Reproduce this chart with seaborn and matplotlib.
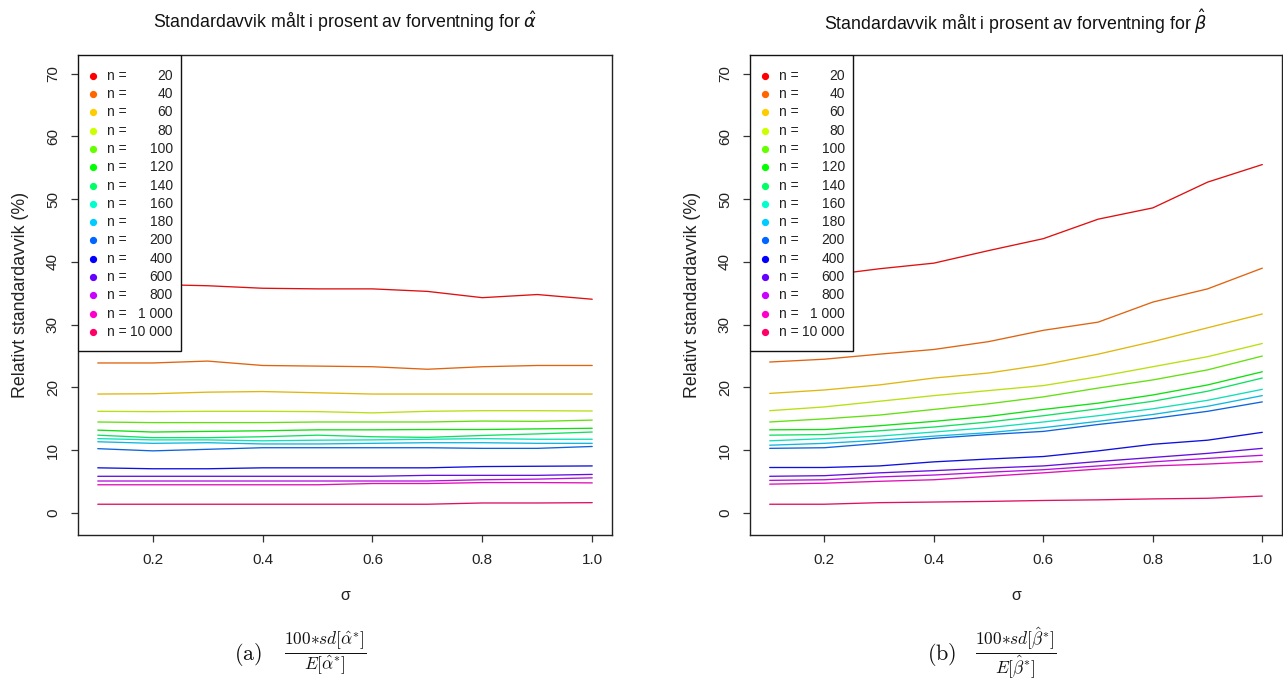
import numpy as np
import pandas as pd
import matplotlib
matplotlib.use("Agg")
import matplotlib.pyplot as plt
import matplotlib.colors as mcolors
from matplotlib.patches import Rectangle
import seaborn as sns

# sigma grid
sigma = [0.1, 0.2, 0.3, 0.4, 0.5, 0.6, 0.7, 0.8, 0.9, 1.0]

# sample sizes and their legend labels
n_values = [20, 40, 60, 80, 100, 120, 140, 160, 180, 200, 400, 600, 800, 1000, 10000]
n_labels = ["20", "40", "60", "80", "100", "120", "140", "160", "180", "200",
            "400", "600", "800", "1 000", "10 000"]

# relative standard deviation (%) of alpha-hat, one list per n
alpha_20 = [36.4, 36.4, 36.2, 35.8, 35.7, 35.7, 35.3, 34.3, 34.8, 34.05]
alpha_40 = [23.9, 23.9, 24.2, 23.5, 23.4, 23.3, 22.9, 23.3, 23.5, 23.5]
alpha_60 = [18.95, 19.0, 19.25, 19.35, 19.15, 18.95, 18.95, 18.95, 18.95, 18.95]
alpha_80 = [16.2, 16.15, 16.2, 16.2, 16.15, 15.95, 16.2, 16.3, 16.3, 16.25]
alpha_100 = [14.5, 14.4, 14.4, 14.4, 14.5, 14.5, 14.5, 14.65, 14.6, 14.8]
alpha_120 = [13.2, 12.9, 13.0, 13.1, 13.25, 13.25, 13.3, 13.3, 13.4, 13.5]
alpha_140 = [12.4, 12.0, 12.0, 12.15, 12.4, 12.15, 12.05, 12.35, 12.6, 12.9]
alpha_160 = [11.85, 11.65, 11.65, 11.5, 11.6, 11.65, 11.75, 11.85, 11.75, 11.75]
alpha_180 = [11.35, 11.1, 11.2, 11.0, 11.0, 11.1, 11.2, 11.2, 11.1, 11.1]
alpha_200 = [10.25, 9.9, 10.15, 10.4, 10.4, 10.4, 10.4, 10.3, 10.3, 10.6]
alpha_400 = [7.2, 7.05, 7.05, 7.2, 7.2, 7.2, 7.2, 7.4, 7.45, 7.5]
alpha_600 = [5.85, 5.85, 5.85, 5.85, 5.85, 5.85, 6.0, 6.0, 6.0, 6.15]
alpha_800 = [5.1, 5.1, 5.1, 5.1, 5.1, 5.1, 5.1, 5.3, 5.4, 5.6]
alpha_1000 = [4.5, 4.5, 4.5, 4.5, 4.5, 4.7, 4.7, 4.85, 4.85, 4.8]
alpha_10000 = [1.4, 1.4, 1.4, 1.4, 1.4, 1.4, 1.4, 1.6, 1.6, 1.65]

# relative standard deviation (%) of beta-hat, one list per n
beta_20 = [36.8, 37.8, 38.9, 39.8, 41.8, 43.7, 46.8, 48.6, 52.7, 55.5]
beta_40 = [24.05, 24.5, 25.3, 26.05, 27.3, 29.1, 30.4, 33.6, 35.7, 39.0]
beta_60 = [19.05, 19.6, 20.4, 21.5, 22.3, 23.6, 25.3, 27.3, 29.5, 31.7]
beta_80 = [16.3, 16.9, 17.8, 18.7, 19.5, 20.3, 21.7, 23.3, 24.9, 27.0]
beta_100 = [14.5, 15.0, 15.6, 16.5, 17.4, 18.5, 19.9, 21.2, 22.8, 25.0]
beta_120 = [13.25, 13.3, 13.9, 14.6, 15.4, 16.5, 17.5, 18.8, 20.4, 22.5]
beta_140 = [12.4, 12.5, 13.1, 13.7, 14.5, 15.5, 16.6, 17.8, 19.4, 21.5]
beta_160 = [11.5, 11.85, 12.25, 12.9, 13.6, 14.5, 15.5, 16.6, 17.95, 19.7]
beta_180 = [10.8, 11.1, 11.6, 12.25, 12.8, 13.6, 14.6, 15.7, 17.0, 18.7]
beta_200 = [10.3, 10.4, 11.1, 11.9, 12.5, 13.0, 14.1, 15.05, 16.2, 17.7]
beta_400 = [7.25, 7.25, 7.5, 8.15, 8.6, 9.0, 9.9, 10.95, 11.6, 12.85]
beta_600 = [5.85, 5.95, 6.4, 6.75, 7.15, 7.5, 8.2, 8.85, 9.5, 10.3]
beta_800 = [5.2, 5.3, 5.75, 6.05, 6.5, 6.9, 7.5, 8.15, 8.7, 9.2]
beta_1000 = [4.6, 4.75, 5.05, 5.3, 5.85, 6.4, 7.0, 7.5, 7.8, 8.2]
beta_10000 = [1.4, 1.4, 1.65, 1.75, 1.85, 2.0, 2.1, 2.25, 2.35, 2.7]

alpha_series = [alpha_20, alpha_40, alpha_60, alpha_80, alpha_100, alpha_120,
                alpha_140, alpha_160, alpha_180, alpha_200, alpha_400,
                alpha_600, alpha_800, alpha_1000, alpha_10000]
beta_series = [beta_20, beta_40, beta_60, beta_80, beta_100, beta_120,
               beta_140, beta_160, beta_180, beta_200, beta_400,
               beta_600, beta_800, beta_1000, beta_10000]

x_ticks = [0.2, 0.4, 0.6, 0.8, 1.0]
y_ticks = [0, 10, 20, 30, 40, 50, 60, 70]


def long_frame(series):
    rows = []
    for n, vals in zip(n_values, series):
        for s, v in zip(sigma, vals):
            rows.append({"sigma": s, "value": v, "n": str(n)})
    return pd.DataFrame(rows)


# rainbow palette (hues evenly spaced from red round to crimson)
k = len(n_values)
dot_colors = [mcolors.hsv_to_rgb((i / k, 1.0, 1.0)) for i in range(k)]
line_colors = [tuple(0.82 * c + 0.06) for c in dot_colors]
line_palette = {str(n): c for n, c in zip(n_values, line_colors)}

sns.set_theme(style="white")
plt.rcParams["font.family"] = ["Liberation Sans", "DejaVu Sans"]
plt.rcParams["axes.edgecolor"] = "#222222"
plt.rcParams["axes.linewidth"] = 1.0

W, H = 1283, 679
fig = plt.figure(figsize=(W / 100, H / 100), dpi=100)
fig.patch.set_facecolor("white")

panels = [
    (78, 534, alpha_series, r"Standardavvik målt i prosent av forventning for $\hat{\alpha}$"),
    (750, 532, beta_series, r"Standardavvik målt i prosent av forventning for $\hat{\beta}$"),
]
ax_top, ax_bottom = 55, 535
ax_h = ax_bottom - ax_top

for left, width, series, title in panels:
    ax = fig.add_axes([left / W, (H - ax_bottom) / H, width / W, ax_h / H])
    df = long_frame(series)
    sns.lineplot(data=df, x="sigma", y="value", hue="n",
                 hue_order=[str(n) for n in n_values], palette=line_palette,
                 linewidth=0.95, legend=False, ax=ax)
    ax.set_xlim(0.064, 1.036)
    ax.set_ylim(-3.5, 72.95)
    ax.set_xticks(x_ticks)
    ax.set_xticklabels([f"{t:.1f}" for t in x_ticks])
    ax.set_yticks(y_ticks)
    ax.set_yticklabels([str(t) for t in y_ticks])
    ax.tick_params(axis="both", which="major", direction="out", length=5,
                   width=0.9, color="#333333", labelsize=11, pad=8,
                   labelcolor="#222222")
    ax.tick_params(axis="x", bottom=True)
    ax.tick_params(axis="y", left=True)
    for lab in ax.get_yticklabels():
        lab.set_rotation(90)
        lab.set_va("center")
        lab.set_ha("right")
    for sp in ax.spines.values():
        sp.set_visible(True)
        sp.set_color("#222222")
    ax.set_xlabel("σ", fontsize=11.5, labelpad=15, color="#222222")
    ax.set_ylabel("Relativt standardavvik (%)", fontsize=12.8, labelpad=12,
                  color="#222222")
    ax.grid(False)

    # title above the panel
    fig.text((left + width / 2) / W, 1 - 22 / H, title, ha="center",
             va="center", fontsize=12.8, color="#111111",
             math_fontfamily="dejavusans")

    # legend box in the upper-left corner
    def fx(px):
        return px / width

    def fy(py):
        return 1 - py / ax_h

    ax.add_patch(Rectangle((0, fy(296)), fx(103), 296 / ax_h,
                           transform=ax.transAxes, facecolor="white",
                           edgecolor="#111111", linewidth=1.0, zorder=5))
    for i, (lab, col) in enumerate(zip(n_labels, dot_colors)):
        yy = fy(20.7 + i * 18.3)
        ax.plot([fx(15)], [yy], marker="o", markersize=4.2, color=col,
                linestyle="none", transform=ax.transAxes, zorder=6,
                clip_on=False)
        ax.text(fx(29), yy, "n =", ha="left", va="center", fontsize=10,
                color="#222222", transform=ax.transAxes, zorder=6)
        ax.text(fx(95), yy, lab, ha="right", va="center", fontsize=10,
                color="#222222", transform=ax.transAxes, zorder=6)

# sub-figure captions: label and fraction
caption_specs = [(248, 325, r"\alpha", "a"), (942, 1016, r"\beta", "b")]
for cx_lab, cx_frac, sym, tag in caption_specs:
    fig.text(cx_lab / W, 1 - 654 / H, rf"$\mathrm{{({tag})}}$", ha="center",
             va="center", fontsize=16, math_fontfamily="cm", color="#111111")
    fig.text(cx_frac / W, 1 - 653 / H,
             rf"$\dfrac{{100{{\ast}}sd[\hat{{{sym}}}^{{\ast}}]}}{{E[\hat{{{sym}}}^{{\ast}}]}}$",
             ha="center", va="center", fontsize=12.5, math_fontfamily="cm",
             color="#111111")

fig.savefig("out.png", dpi=100, facecolor="white")
